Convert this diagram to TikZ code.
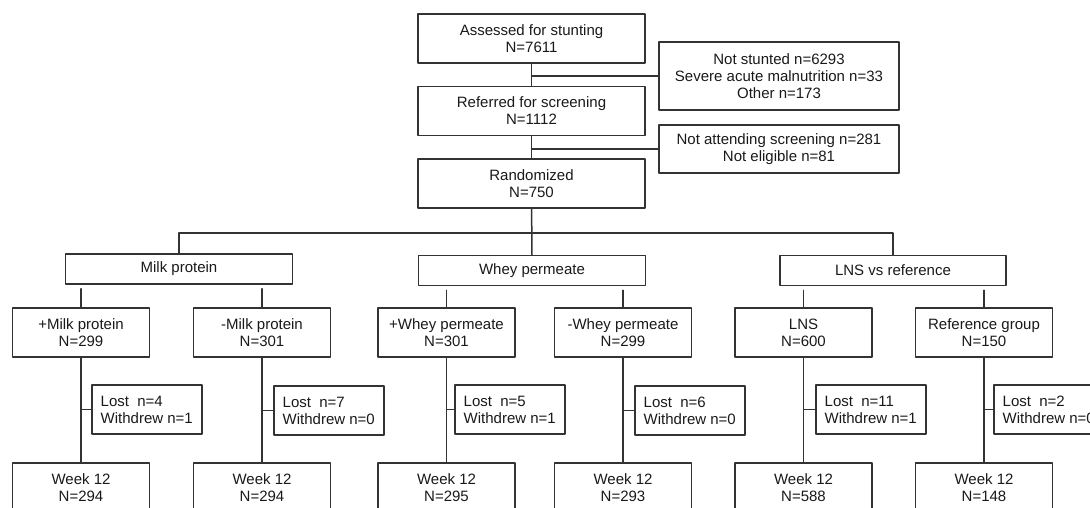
\documentclass[tikz,border=0pt]{standalone}
\usepackage{fontspec}
\setmainfont{Liberation Sans}
\begin{document}
\begin{tikzpicture}[x=1pt,y=-1pt,font=\fontsize{15}{17}\selectfont,line join=round,line cap=round,
    conn/.style={draw=black!80,line width=1.5pt},
    box/.style={draw=black!80,line width=1.5pt,text=black!90,align=center,inner sep=0pt,minimum width=227pt,minimum height=49pt},
    sidebox/.style={box,minimum width=240pt},
    groupbox/.style={box,minimum height=30pt},
    armbox/.style={box,minimum width=137pt},
    lostbox/.style={box,align=left,minimum width=110pt,anchor=west}]
            \clip (0,0) rectangle (1090,507);
            % enrolment
            \node[box] (assessed) at (531.5,38.5) {Assessed for stunting\\N=7611};
            \node[box] (referred) at (531.5,111) {Referred for screening\\N=1112};
            \node[box] (random) at (531.5,183.5) {Randomized\\N=750};
            \node[sidebox,minimum height=68pt] (notstunted) at (779,76) {Not stunted n=6293\\Severe acute malnutrition n=33\\Other n=173};
            \node[sidebox,minimum height=48pt] (notscreened) at (779,149) {Not attending screening n=281\\Not eligible n=81};
            \draw[conn] (assessed) -- (referred) -- (random);
            \draw[conn] (assessed.south |- notstunted.west) -- (notstunted.west);
            \draw[conn] (referred.south |- notscreened.west) -- (notscreened.west);
            % factors
            \node[groupbox] (milk) at (179,269) {Milk protein};
            \node[groupbox] (whey) at (532,270.5) {Whey permeate};
            \node[groupbox,minimum width=226pt] (lns) at (893,270.5) {LNS vs reference};
            \coordinate (split) at (531.5,233);
            \draw[conn] (random) -- (whey);
            \draw[conn] (milk.north) |- (split) -| (lns.north);
            % arms
            \node[armbox] (pmilk) at (81,332.5) {+Milk protein\\N=299};
            \node[armbox] (mmilk) at (262,332.5) {-Milk protein\\N=301};
            \node[armbox] (pwhey) at (446.5,332.5) {+Whey permeate\\N=301};
            \node[armbox] (mwhey) at (623,332.5) {-Whey permeate\\N=299};
            \node[armbox] (lnsarm) at (803.5,332.5) {LNS\\N=600};
            \node[armbox] (refarm) at (984,332.5) {Reference group\\N=150};
            \draw[conn,shorten <=4pt] (milk.south -| pmilk.north) -- (pmilk.north);
            \draw[conn,shorten <=4pt] (milk.south -| mmilk.north) -- (mmilk.north);
            \draw[conn,shorten <=4pt] (whey.south -| pwhey.north) -- (pwhey.north);
            \draw[conn,shorten <=4pt] (whey.south -| mwhey.north) -- (mwhey.north);
            \draw[conn,shorten <=4pt] (lns.south -| lnsarm.north) -- (lnsarm.north);
            \draw[conn,shorten <=4pt] (lns.south -| refarm.north) -- (refarm.north);
            % losses
            \node[lostbox] (lost1) at (91,409.5) {Lost\ \ n=4\\Withdrew n=1};
            \node[lostbox] (lost2) at (273,410.5) {Lost\ \ n=7\\Withdrew n=0};
            \node[lostbox] (lost3) at (454,409.5) {Lost\ \ n=5\\Withdrew n=1};
            \node[lostbox] (lost4) at (634,410.5) {Lost\ \ n=6\\Withdrew n=0};
            \node[lostbox] (lost5) at (815,409.5) {Lost\ \ n=11\\Withdrew n=1};
            \node[lostbox] (lost6) at (993,409.5) {Lost\ \ n=2\\Withdrew n=0};
            % week 12
            \node[armbox] (week1) at (81,487.5) {Week 12\\N=294};
            \node[armbox] (week2) at (262,487.5) {Week 12\\N=294};
            \node[armbox] (week3) at (446.5,487.5) {Week 12\\N=295};
            \node[armbox] (week4) at (623,487.5) {Week 12\\N=293};
            \node[armbox] (week5) at (803.5,487.5) {Week 12\\N=588};
            \node[armbox] (week6) at (984,487.5) {Week 12\\N=148};
            \draw[conn] (pmilk) -- (week1);
            \draw[conn] (mmilk) -- (week2);
            \draw[conn] (pwhey) -- (week3);
            \draw[conn] (mwhey) -- (week4);
            \draw[conn] (lnsarm) -- (week5);
            \draw[conn] (refarm) -- (week6);
            \draw[conn] (pmilk.south |- lost1.west) -- (lost1.west);
            \draw[conn] (mmilk.south |- lost2.west) -- (lost2.west);
            \draw[conn] (pwhey.south |- lost3.west) -- (lost3.west);
            \draw[conn] (mwhey.south |- lost4.west) -- (lost4.west);
            \draw[conn] (lnsarm.south |- lost5.west) -- (lost5.west);
            \draw[conn] (refarm.south |- lost6.west) -- (lost6.west);
        \end{tikzpicture}
\end{document}
